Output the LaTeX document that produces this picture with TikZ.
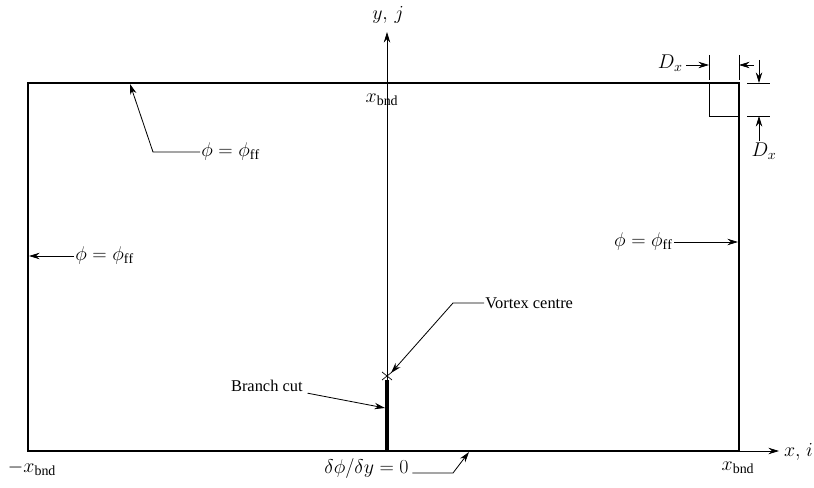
\documentclass[tikz,border=0pt]{standalone}
\usepackage{fix-cm}
\usepackage{fontspec}
\setmainfont{Liberation Serif}
\usetikzlibrary{arrows.meta}
\begin{document}
\begin{tikzpicture}[x=0.03cm,y=-0.03cm,
  every node/.style={font=\fontsize{14}{16}\selectfont, inner sep=1pt},
  mnode/.style={font=\fontsize{17}{19}\selectfont},
  lead/.style={line width=0.7pt, -{Stealth[length=9pt,width=5.5pt]}},
  frame/.style={line width=1.1pt},
  thin/.style={line width=0.6pt}]
\useasboundingbox (0,0) rectangle (814,488);
% frame
\coordinate (TL) at (28,83);
\coordinate (TR) at (739,83);
\coordinate (BR) at (739,451);
\coordinate (BL) at (28,451);
\draw[frame] (BL) -- (TL) -- (TR) -- (BR) -- cycle;
% axes
\coordinate (XA) at (779,451);
\coordinate (O) at (387,451);
\coordinate (YA) at (387,32);
\draw[lead] (BR) -- (XA);
\draw[lead] (O) -- (YA);
% branch cut and vortex
\coordinate (V) at (387,376);
\draw[line width=3.2pt] (O) -- (387,380);
\draw[thin] ([shift={(-5,-4)}]V) -- ([shift={(5,4)}]V);
\draw[thin] ([shift={(-5,4)}]V) -- ([shift={(5,-4)}]V);
% axis labels
\node[mnode] (yj) at (388,15) {$y,\,j$};
\node[mnode] (xt) at (382,100) {$x_{\mathrm{bnd}}$};
\node[mnode] (xl) at (32,468) {$-x_{\mathrm{bnd}}$};
\node[mnode] (xr) at (738,468) {$x_{\mathrm{bnd}}$};
\node[mnode, anchor=east, inner sep=0pt] (xi) at (813,452) {$x,\!\;i$};
% phi labels
\node[mnode, anchor=west] (p1) at (200,152) {$\phi=\phi_{\mathrm{ff}}$};
\coordinate (p1k) at (153,152);
\coordinate (p1t) at (130,84);
\draw[lead] (p1.west) -- (p1k) -- (p1t);
\node[mnode, anchor=west] (p2) at (74,256) {$\phi=\phi_{\mathrm{ff}}$};
\coordinate (p2t) at (29,256);
\draw[lead] (p2.west) -- (p2t);
\node[mnode, anchor=east] (p3) at (674,242) {$\phi=\phi_{\mathrm{ff}}$};
\coordinate (p3t) at (738,242);
\draw[lead] (p3.east) -- (p3t);
% vortex centre
\node[anchor=west] (vc) at (484,303) {Vortex centre};
\coordinate (vck) at (453,303);
\coordinate (vct) at (391,373);
\draw[lead] (vc.west) -- (vck) -- (vct);
% branch cut
\node[anchor=east] (bc) at (304,386) {Branch cut};
\coordinate (bct) at (385,408);
\draw[lead] ([xshift=3pt]bc.south east) -- (bct);
% boundary condition
\node[mnode, anchor=west] (dp) at (323,469) {$\delta\phi/\delta y=0$};
\coordinate (dpk) at (453,473);
\coordinate (dpt) at (469,452);
\draw[lead] ([xshift=2pt]dp.east |- dpk) -- (dpk) -- (dpt);
% D_x dimension marks
\draw[thin] (709,55) -- (709,80);
\draw[thin] (739,55) -- (739,80);
\draw[thin] (709,83) -- (709,116) -- (739,116);
\draw[thin] (747,83) -- (770,83);
\draw[thin] (747,116) -- (770,116);
\node[mnode, anchor=east] (d1) at (684,63) {$D_x$};
\coordinate (d1t) at (709,65);
\draw[lead] ([xshift=2pt]d1.east |- d1t) -- (d1t);
\coordinate (d2s) at (754,65);
\coordinate (d2t) at (739,65);
\draw[lead] (d2s) -- (d2t);
\coordinate (d3s) at (759,60);
\coordinate (d3t) at (759,83);
\draw[lead] (d3s) -- (d3t);
\node[mnode] (d4) at (764,151) {$D_x$};
\coordinate (d4t) at (759,116);
\draw[lead] (d4t |- d4.north) -- (d4t);
\end{tikzpicture}
\end{document}
